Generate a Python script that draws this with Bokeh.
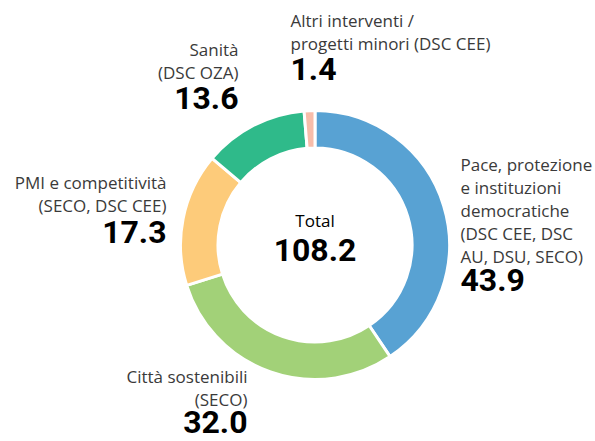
import numpy as np
from bokeh.plotting import figure
from bokeh.models import ColumnDataSource
from bokeh.core.properties import value
from bokeh.embed import file_html
from bokeh.resources import INLINE

categories = ["Pace, protezione e istituzioni democratiche", "Città sostenibili",
              "PMI e competitività", "Sanità", "Altri interventi / progetti minori"]
values = [43.9, 32.0, 17.3, 13.6, 1.4]
colors = ["#58a2d3", "#a2d178", "#fdcb7a", "#2fba8a", "#f8bdaa"]
label_lines = [
    ["Pace, protezione", "e instituzioni", "democratiche", "(DSC CEE, DSC", "AU, DSU, SECO)"],
    ["Città sostenibili", "(SECO)"],
    ["PMI e competitività", "(SECO, DSC CEE)"],
    ["Sanità", "(DSC OZA)"],
    ["Altri interventi /", "progetti minori (DSC CEE)"],
]
value_labels = ["43.9", "32.0", "17.3", "13.6", "1.4"]
total_label = "108.2"

W, H = 595, 441
p = figure(width=W, height=H, x_range=(0, W), y_range=(0, H),
           output_backend="svg", toolbar_location=None, min_border=0)
p.axis.visible = False
p.grid.visible = False
p.outline_line_color = None
p.background_fill_color = "white"
p.border_fill_color = "white"

cx, cy = 314.5, H - 244.5
total = sum(values)
cum = np.concatenate([[0], np.cumsum(values)])
start = np.pi / 2 - 2 * np.pi * cum[:-1] / total
end = np.pi / 2 - 2 * np.pi * cum[1:] / total
src = ColumnDataSource(dict(start=start, end=end, color=colors))
p.annular_wedge(x=cx, y=cy, inner_radius=97, outer_radius=134.5,
                start_angle="start", end_angle="end", direction="clock",
                fill_color="color", line_color="white", line_width=3, source=src)

lab_font = value("Open Sans")
val_font = value("Roboto")
grey = "#3a3a3a"
LH = 23
LFS, VFS = 17, 32


def ypos(baseline, fs):
    # screen baseline (px from top) -> data y, compensating the svg baseline offset
    return H - (baseline - 0.42 * fs)


# (x, first baseline y in screen px, value baseline, align)
anchors = [(460, 171, 293, "left"), (247, 383, 435, "right"), (166, 189, 245, "right"),
           (238, 56, 111, "right"), (290, 27, 82, "left")]
for (x, y0, vb, al), lines, v in zip(anchors, label_lines, value_labels):
    ys = [ypos(y0 + i * LH, LFS) for i in range(len(lines))]
    p.text(x=[x] * len(lines), y=ys, text=lines, text_font=lab_font,
           text_font_size=f"{LFS}px", text_color=grey, text_align=al,
           text_baseline="alphabetic")
    p.text(x=[x], y=[ypos(vb, VFS)], text=[v], text_font=val_font,
           text_font_size=f"{VFS}px", text_font_style="bold", text_color="black",
           text_align=al, text_baseline="alphabetic")

p.text(x=[cx], y=[ypos(227, LFS)], text=["Total"], text_font=lab_font,
       text_font_size=f"{LFS}px", text_color="black", text_align="center",
       text_baseline="alphabetic")
p.text(x=[cx], y=[ypos(263, VFS)], text=[total_label], text_font=val_font,
       text_font_size=f"{VFS}px", text_font_style="bold", text_color="black",
       text_align="center", text_baseline="alphabetic")

open("out.html", "w").write(file_html(p, INLINE))
